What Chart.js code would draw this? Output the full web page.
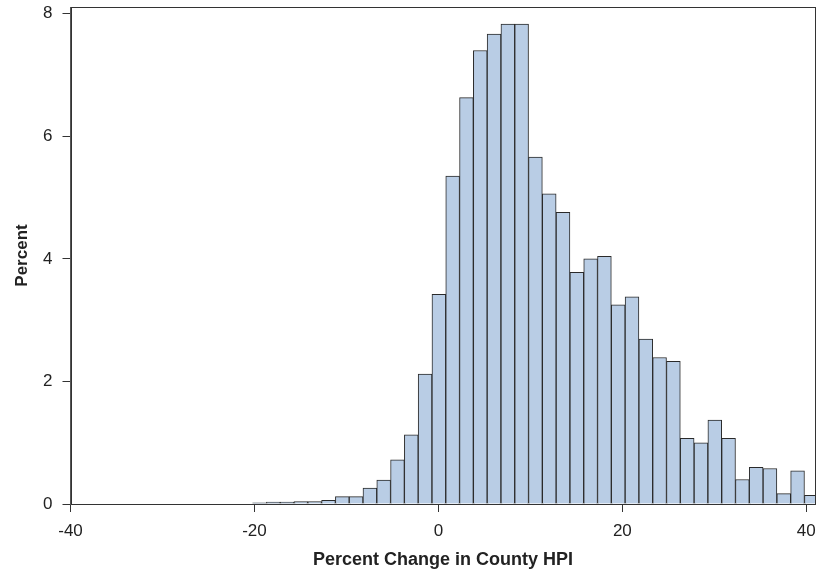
<!DOCTYPE html>
<html>
<head>
<meta charset="utf-8">
<script src="https://cdn.jsdelivr.net/npm/chart.js@4"></script>
<style>
  html, body { margin: 0; padding: 0; background: #fff; }
  #wrap { width: 816px; height: 574px; }
</style>
</head>
<body>
<div id="wrap"><canvas id="hpiChart"></canvas></div>
<script>
// Histogram of county HPI changes: bins are 1.5 points wide, starting at -20.2
const binStart = -20.2;
const binWidth = 1.5;
const percentShare = [
    0.02, 0.03, 0.03, 0.04, 0.04, 0.06, 0.12, 0.12, 0.26, 0.39,
    0.72, 1.13, 2.12, 3.42, 5.35, 6.63, 7.40, 7.67, 7.83, 7.83,
    5.66, 5.06, 4.76, 3.78, 4.00, 4.04, 3.25, 3.38, 2.69, 2.39,
    2.33, 1.07, 1.00, 1.37, 1.07, 0.40, 0.60, 0.58, 0.17, 0.54,
    0.14
];
const xTicks = [-40, -20, 0, 20, 40];
const yTicks = [0, 2, 4, 6, 8];

const points = percentShare.map((p, i) => ({
    x: binStart + binWidth * (i + 0.5),
    y: p
}));

const fontFamily = "'Liberation Sans', Arial, sans-serif";
const inkColor = '#222';

// draws the closed box round the plot area
const frame = {
    id: 'frame',
    afterDraw(chart) {
        const { ctx, chartArea: a } = chart;
        ctx.save();
        ctx.strokeStyle = '#333';
        ctx.lineWidth = 1;
        ctx.strokeRect(Math.round(a.left) + 0.5, Math.round(a.top) + 0.5,
            Math.round(a.right - a.left) - 1, Math.round(a.bottom - a.top));
        ctx.restore();
    }
};

new Chart(document.getElementById('hpiChart'), {
    type: 'bar',
    data: {
        datasets: [{
            data: points,
            backgroundColor: '#b9cde5',
            borderColor: '#2a2a2a',
            borderWidth: 1,
            borderSkipped: 'start',
            barPercentage: 1,
            categoryPercentage: 1,
            clip: 0
        }]
    },
    options: {
        responsive: true,
        maintainAspectRatio: false,
        animation: false,
        layout: { padding: { top: 7, right: 0.5, bottom: 0, left: 0 } },
        plugins: {
            legend: { display: false },
            tooltip: { enabled: false }
        },
        scales: {
            x: {
                type: 'linear',
                offset: false,
                min: -40,
                max: 41,
                afterBuildTicks: scale => { scale.ticks = xTicks.map(v => ({ value: v })); },
                afterFit: scale => {
                    scale.height = 70;
                    scale.paddingLeft = 0;
                    scale.paddingRight = 0;
                },
                grid: { offset: false, drawOnChartArea: false, drawTicks: true, tickLength: 8, color: '#333' },
                border: { display: true, color: '#333' },
                ticks: {
                    color: inkColor,
                    font: { family: fontFamily, size: 17 },
                    padding: 9,
                    maxRotation: 0
                },
                title: {
                    display: true,
                    text: 'Percent Change in County HPI',
                    color: inkColor,
                    font: { family: fontFamily, size: 18, weight: 'bold' },
                    padding: { top: 0, bottom: 3 }
                }
            },
            y: {
                min: 0,
                max: 8.11,
                afterBuildTicks: scale => { scale.ticks = yTicks.map(v => ({ value: v })); },
                afterFit: scale => {
                    scale.width = 70.5;
                    scale.paddingTop = 0;
                    scale.paddingBottom = 0;
                },
                grid: { drawOnChartArea: false, drawTicks: true, tickLength: 8, color: '#333' },
                border: { display: true, color: '#555' },
                ticks: {
                    color: inkColor,
                    font: { family: fontFamily, size: 17 },
                    padding: 10
                },
                title: {
                    display: true,
                    text: 'Percent',
                    color: inkColor,
                    font: { family: fontFamily, size: 17, weight: 'bold' },
                    padding: { top: 12, bottom: 0 }
                }
            }
        }
    },
    plugins: [frame]
});
</script>
</body>
</html>
